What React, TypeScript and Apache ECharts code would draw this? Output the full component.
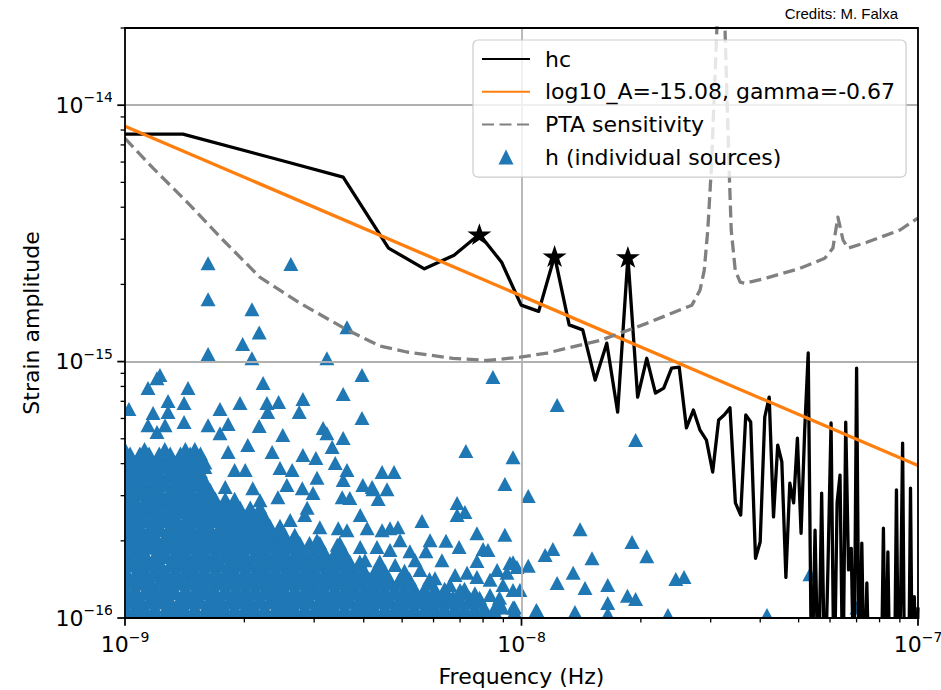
import React, { useEffect, useRef } from "react";
import * as echarts from "echarts";

const FONT = "'DejaVu Sans', sans-serif";
const NHZ = 1e-9; // frequencies below are given in nHz
const UNIT = 1e-16; // strains below are given in units of 1e-16

// Characteristic strain of the background, one value per frequency bin
const hcFreqNHz = [
  1.0, 1.4, 2.47, 3.55, 4.62, 5.69, 6.76, 7.83, 8.91, 9.98,
  11.05, 12.12, 13.19, 14.27, 15.34, 16.41, 17.48, 18.55, 19.63, 20.7,
  21.77, 22.84, 23.91, 24.99, 26.06, 27.13, 28.2, 29.27, 30.35, 31.42,
  32.49, 33.56, 34.63, 35.71, 36.78, 37.85, 38.92, 39.99, 41.07, 42.14,
  43.21, 44.28, 45.35, 46.43, 47.5, 48.57, 49.64, 50.71, 51.79, 52.86,
  53.93, 55.0, 56.08, 57.15, 58.22, 59.29, 60.36, 61.44, 62.51, 63.58,
  64.65, 65.72, 66.8, 67.87, 68.94, 70.01, 71.08, 72.16, 73.23, 74.3,
  75.37, 76.44, 77.52, 78.59, 79.66, 80.73, 81.8, 82.88, 83.95, 85.02,
  86.09, 87.16, 88.24, 89.31, 90.38, 91.45, 92.52, 93.6, 94.67, 95.74,
  96.81, 97.88, 98.96, 100.0,
];
const hcStrain = [
  77.1, 77.1, 61.0, 52.4, 27.7, 23.0, 26.0, 31.4, 24.4, 16.6,
  15.7, 25.8, 13.9, 13.3, 8.47, 11.8, 6.35, 25.6, 7.27, 10.3,
  7.54, 7.88, 9.43, 9.52, 5.51, 6.47, 5.4, 4.94, 3.71, 5.92,
  6.2, 6.6, 2.81, 2.52, 6.19, 5.81, 1.71, 1.98, 6.08, 7.27,
  2.48, 4.72, 4.06, 1.44, 3.36, 2.81, 5.03, 2.14, 5.4, 10.8,
  0.5, 2.2, 0.5, 3.07, 0.5, 1.6, 5.76, 0.5, 2.81, 3.61,
  0.5, 5.81, 1.54, 1.87, 0.5, 9.43, 0.5, 1.96, 0.5, 1.37,
  0.5, 0.5, 0.5, 0.5, 0.5, 0.5, 2.24, 0.5, 1.81, 0.5,
  0.5, 0.5, 3.16, 0.5, 1.14, 4.81, 0.5, 0.5, 0.5, 3.21,
  0.5, 1.21, 0.5, 1.1,
];

// Bins flagged with a star
const peakFreqNHz = [7.83, 12.12, 18.55];
const peakStrain = [31.4, 25.8, 25.6];

// Power-law fit, straight in log-log
const fitFreqNHz = [1, 100];
const fitStrain = [82.8, 3.93];

// Array sensitivity curve (1/yr and 2/yr features)
const ptaFreqNHz = [
  1.0, 1.177, 1.434, 1.767, 2.191, 2.764, 3.63, 4.4, 5.14, 6.72,
  8.18, 9.91, 11.6, 15.8, 20.7, 26.9, 28.2, 28.9, 29.5, 30.1,
  30.6, 31.1, 31.9, 32.6, 33.0, 33.4, 33.8, 34.6, 35.6, 36.6,
  41.6, 50.4, 58.2, 61.0, 62.8, 64.7, 66.6, 74.3, 90.1, 100.0,
];
const ptaStrain = [
  74.3, 56.8, 41.9, 29.8, 21.3, 16.9, 13.3, 11.5, 10.9, 10.3,
  10.1, 10.4, 10.8, 12.1, 14.1, 16.6, 19.0, 22.7, 32.6, 55.8,
  104.6, 199.6, 1000, 199.6, 104.6, 55.8, 32.6, 22.7, 20.4, 20.2,
  21.2, 23.1, 25.3, 27.7, 36.6, 29.8, 27.7, 29.2, 32.6, 36.3,
];

// Faint population of individual binaries: [strains, frequencies]
const populationRows: [number[], number[]][] = [
  [[1.06, 1.1], [1.0, 1.06, 1.12, 1.19, 1.27, 1.34, 1.41, 1.5, 1.6, 1.69, 1.78, 1.89, 2.01, 2.12, 2.25, 2.4, 2.53, 2.67, 2.84, 3.02, 3.19, 3.37, 3.58, 3.81, 4.02, 4.25, 4.52, 4.8, 5.07, 5.37, 5.71, 6.04, 6.39, 6.79, 7.18, 7.62, 8.06, 8.57, 9.6]],
  [[1.15, 1.2], [1.03, 1.09, 1.16, 1.22, 1.29, 1.38, 1.46, 1.54, 1.64, 1.74, 1.85, 1.95, 2.06, 2.19, 2.33, 2.46, 2.61, 2.76, 2.91, 3.1, 3.29, 3.48, 3.68, 3.91, 4.15, 4.39, 4.64, 4.93, 5.23, 5.53, 5.85, 6.22, 6.58, 6.97, 7.4, 7.84, 8.8]],
  [[1.25, 1.3], [1.0, 1.06, 1.13, 1.19, 1.26, 1.33, 1.42, 1.51, 1.59, 1.68, 1.79, 1.9, 2.01, 2.13, 2.26, 2.39, 2.52, 2.68, 2.85, 3.01, 3.18, 3.38, 3.59, 3.8, 4.03, 4.26, 4.51, 4.79, 5.08, 5.38, 5.69, 6.05, 6.4, 7.18]],
  [[1.36, 1.42], [1.03, 1.09, 1.15, 1.23, 1.3, 1.37, 1.46, 1.55, 1.65, 1.74, 1.84, 1.96, 2.07, 2.19, 2.31, 2.46, 2.6, 2.77, 2.92, 3.09, 3.28, 3.49, 3.69, 3.9, 4.14, 4.4, 4.65, 4.92, 5.22, 5.86]],
  [[1.47, 1.53], [1.0, 1.07, 1.12, 1.19, 1.26, 1.34, 1.42, 1.5, 1.59, 1.69, 1.8, 1.89, 2.01, 2.14, 2.25, 2.39, 2.54, 2.68, 2.84, 3.01, 3.2, 3.38, 3.58, 3.79, 4.02, 4.27, 4.52, 5.07]],
  [[1.6, 1.66], [1.03, 1.09, 1.15, 1.22, 1.31, 1.38, 1.46, 1.55, 1.64, 1.73, 1.84, 1.95, 2.07, 2.2, 2.32, 2.46, 2.6, 2.75, 2.92, 3.1, 3.28, 3.48, 3.69, 3.91, 4.39]],
  [[1.73, 1.8], [1.0, 1.06, 1.12, 1.2, 1.26, 1.34, 1.42, 1.51, 1.59, 1.69, 1.79, 1.89, 2.0, 2.13, 2.25, 2.39, 2.53, 2.69, 2.84, 3.01, 3.19, 3.38, 3.58]],
  [[1.88, 1.96], [1.03, 1.1, 1.15, 1.22, 1.3, 1.38, 1.47, 1.55, 1.64, 1.74, 1.85, 1.95, 2.07, 2.19, 2.32, 2.46, 2.61, 2.76, 2.92, 3.1, 3.48]],
  [[2.03, 2.11], [1.0, 1.06, 1.12, 1.19, 1.27, 1.34, 1.42, 1.5, 1.59, 1.69, 1.79, 1.9, 2.01, 2.13, 2.25, 2.38, 2.53, 2.68]],
  [[2.2, 2.29], [1.03, 1.09, 1.16, 1.22, 1.3, 1.38, 1.46, 1.55, 1.63, 1.74, 1.84, 1.95, 2.07, 2.19, 2.32, 2.46]],
  [[2.39, 2.49], [1.0, 1.06, 1.12, 1.19, 1.26, 1.34, 1.43, 1.5, 1.59, 1.69, 1.79, 1.89, 2.01, 2.13, 2.25]],
  [[2.59, 2.7], [1.03, 1.09, 1.15, 1.22, 1.3, 1.38, 1.46, 1.55, 1.64, 1.74, 1.84, 1.95, 2.07, 2.19]],
  [[2.81, 2.92], [1.0, 1.06, 1.13, 1.19, 1.26, 1.34, 1.42, 1.5, 1.59, 1.69, 1.79, 1.89]],
  [[3.04, 3.16], [1.03, 1.09, 1.15, 1.22, 1.3, 1.38, 1.46, 1.55, 1.64]],
  [[3.3, 3.43], [1.0, 1.06, 1.12, 1.19, 1.26, 1.34, 1.42, 1.5, 1.59]],
  [[3.58, 3.73], [1.03, 1.09, 1.15, 1.22, 1.3, 1.38, 1.46, 1.55]],
  [[3.88, 4.04], [1.0, 1.06, 1.12, 1.19, 1.26, 1.34, 1.42, 1.5, 1.59]],
  [[4.21, 4.38], [1.03, 1.09, 1.15, 1.22, 1.3, 1.38, 1.46, 1.55]],
  [[4.56], [1.0, 1.12, 1.26, 1.42, 1.5]],
];

// Brighter, isolated binaries: [frequency nHz, strain]
const loudSources: [number, number][] = [
  [1.62, 24.2], [2.62, 24.0], [1.62, 17.5], [2.09, 16.0], [2.18, 13.0], [1.98, 11.7],
  [1.62, 10.7], [2.09, 10.3], [3.23, 10.3], [3.63, 13.6], [8.47, 8.7], [12.3, 6.77],
  [3.96, 8.86], [1.225, 8.86], [1.204, 8.62], [1.143, 7.88], [1.442, 7.88], [2.23, 8.25],
  [1.284, 7.02], [1.409, 6.89], [1.023, 6.53], [1.177, 6.3], [1.284, 6.36], [1.736, 6.53],
  [1.95, 6.89], [2.28, 6.89], [2.44, 6.95], [2.81, 7.14], [3.55, 7.47], [2.29, 6.36],
  [2.75, 6.36], [3.96, 6.02], [1.409, 5.81], [1.62, 5.65], [1.82, 5.71], [2.18, 5.61],
  [1.143, 5.65], [1.262, 5.65], [1.204, 5.31], [3.16, 5.51], [3.23, 5.26], [1.736, 5.26],
  [2.5, 5.17], [3.55, 5.03], [7.24, 4.48], [9.52, 4.24], [9.08, 3.33], [10.4, 2.99],
  [4.45, 3.71], [4.77, 3.71], [4.2, 3.24], [4.58, 3.18], [4.35, 2.91], [6.88, 2.81],
  [7.2, 2.59], [6.88, 2.52], [5.61, 2.39], [14.05, 2.22], [7.72, 2.14], [9.08, 2.11],
  [6.45, 2.0], [6.96, 1.89], [8.0, 1.86], [5.23, 1.82], [5.74, 1.82], [11.47, 1.76],
  [12.0, 1.86], [15.06, 1.71], [6.3, 1.68], [7.72, 1.67], [10.4, 1.6], [13.5, 1.5],
  [12.3, 1.37], [14.46, 1.31], [7.29, 1.5], [8.68, 1.54], [9.35, 1.64], [9.74, 1.58],
  [7.72, 1.445], [6.6, 1.345], [8.98, 1.345], [7.63, 1.25], [10.9, 1.075], [13.64, 1.055],
  [19.4, 4.94], [19.0, 1.98], [20.7, 1.74], [24.5, 1.42], [25.7, 1.445], [16.5, 1.345],
  [18.5, 1.22], [19.4, 1.186], [16.5, 1.144], [16.5, 1.036], [23.4, 1.027], [41.6, 1.027],
  [53.4, 1.48], [70.2, 1.1], [9.52, 1.1], [8.93, 1.1], [10.98, 1.055],
  [2.04, 4.73], [1.82, 4.44], [2.35, 4.44], [2.81, 4.32], [3.03, 4.21], [3.33, 4.64],
  [3.39, 4.02], [1.89, 3.78], [2.01, 3.78], [2.46, 3.85], [2.64, 3.78], [3.05, 3.52],
  [3.63, 3.78], [3.55, 3.45], [1.79, 3.24], [2.1, 3.21], [2.56, 3.3], [2.8, 3.21],
  [2.98, 3.07], [3.98, 3.3], [4.22, 3.18], [2.19, 2.88], [2.43, 2.96], [2.88, 2.69],
  [3.53, 2.96], [3.69, 2.94], [3.92, 2.52], [3.1, 2.26], [3.45, 2.24], [3.63, 2.2],
  [4.08, 2.24], [4.45, 2.2], [4.66, 2.24], [4.88, 2.26], [8.23, 1.84], [9.52, 1.65],
  [9.19, 1.5], [3.92, 1.89], [4.32, 1.89], [4.66, 1.84], [3.43, 1.93], [6.72, 1.21],
  [9.52, 1.286], [2.46, 2.14], [3.05, 2.01], [2.61, 2.41], [2.84, 2.52], [5.55, 1.54],
  [6.05, 1.43], [6.8, 1.47], [8.33, 1.23], [7.0, 1.286],
  [4.03, 1.68], [4.8, 1.61], [5.39, 1.68], [8.33, 1.41], [9.91, 1.286], [5.88, 2.01],
  [4.94, 2.01], [6.05, 1.23],
];

// Axis ticks
const freqMajorTicks = [1e-9, 1e-8, 1e-7];
const freqMinorTicks = [2e-9, 3e-9, 4e-9, 5e-9, 6e-9, 7e-9, 8e-9, 9e-9, 2e-8, 3e-8, 4e-8, 5e-8, 6e-8, 7e-8, 8e-8, 9e-8];
const strainMajorTicks = [1e-16, 1e-15, 1e-14];
const strainMinorTicks = [2e-16, 3e-16, 4e-16, 5e-16, 6e-16, 7e-16, 8e-16, 9e-16, 2e-15, 3e-15, 4e-15, 5e-15, 6e-15, 7e-15, 8e-15, 9e-15, 2e-14];

const seriesNames = ["hc", "log10_A=-15.08, gamma=-0.67", "PTA sensitivity", "h (individual sources)"];
const creditText = "Credits: M. Falxa";

const STAR = "path://M50,0L61.23,34.55L97.55,34.55L68.17,55.9L79.39,90.45L50,69.1L20.61,90.45L31.83,55.9L2.45,34.55L38.77,34.55Z";
const TRIANGLE = "path://M5,0L10,10L0,10Z";

const zipCurve = (fs: number[], hs: number[]) => fs.map((f, i) => [f * NHZ, hs[i] * UNIT]);

const powerLabel = (v: number) => {
  const lg = Math.log10(v);
  const e = Math.round(lg);
  if (Math.abs(lg - e) > 0.01) return "";
  return `{b|10}{s|${e < 0 ? "\u2212" : ""}${Math.abs(e)}}`;
};

const labelRich = {
  b: { fontFamily: FONT, fontSize: 22, lineHeight: 30, color: "#000" },
  s: { fontFamily: FONT, fontSize: 14, lineHeight: 16, verticalAlign: "top", color: "#000" },
};

export default function App() {
  const ref = useRef<HTMLDivElement>(null);

  useEffect(() => {
    if (!ref.current) return;
    const chart = echarts.init(ref.current, undefined, { renderer: "svg" });

    const sources = [
      ...populationRows.flatMap(([ss, fs]) => ss.flatMap((s) => fs.map((f) => [f * NHZ, s * UNIT]))),
      ...loudSources.map(([f, s]) => [f * NHZ, s * UNIT]),
    ];

    const tickData = [
      ...freqMajorTicks.map((f) => [f, 1e-16, 0]),
      ...freqMinorTicks.map((f) => [f, 1e-16, 1]),
      ...strainMajorTicks.map((h) => [1e-9, h, 2]),
      ...strainMinorTicks.map((h) => [1e-9, h, 3]),
    ];

    const lineLegendItem = (name: string) => ({ name, itemStyle: { opacity: 0 } });

    chart.setOption({
      animation: false,
      backgroundColor: "#fff",
      textStyle: { fontFamily: FONT },
      grid: {
        left: 125,
        top: 28,
        width: 793,
        height: 590,
        show: true,
        z: 10,
        borderColor: "#000",
        borderWidth: 1.76,
        backgroundColor: "transparent",
        containLabel: false,
        outerBoundsMode: "none",
      },
      xAxis: {
        type: "log",
        logBase: 10,
        min: 1e-9,
        max: 1e-7,
        z: 2,
        name: "Frequency (Hz)",
        nameLocation: "middle",
        nameGap: 47,
        nameTextStyle: { fontFamily: FONT, fontSize: 22, color: "#000" },
        axisLine: { show: false },
        axisTick: { show: false },
        splitLine: { show: true, lineStyle: { color: "#b0b0b0", width: 1.76 } },
        axisLabel: {
          margin: 11.5,
          showMinLabel: true,
          showMaxLabel: true,
          formatter: powerLabel,
          rich: labelRich,
        },
      },
      yAxis: {
        type: "log",
        logBase: 10,
        min: 1e-16,
        max: 2e-14,
        z: 2,
        name: "Strain amplitude",
        nameLocation: "middle",
        nameGap: 83,
        nameTextStyle: { fontFamily: FONT, fontSize: 22, color: "#000" },
        axisLine: { show: false },
        axisTick: { show: false },
        splitLine: { show: true, lineStyle: { color: "#b0b0b0", width: 1.76 } },
        axisLabel: {
          margin: 12,
          showMinLabel: true,
          showMaxLabel: true,
          formatter: powerLabel,
          rich: labelRich,
        },
      },
      legend: {
        left: 473,
        top: 40,
        orient: "vertical",
        z: 11,
        selectedMode: false,
        backgroundColor: "rgba(255,255,255,0.8)",
        borderColor: "#cccccc",
        borderWidth: 1.2,
        borderRadius: 5,
        padding: [8, 11, 9, 8],
        itemWidth: 48,
        itemHeight: 15,
        itemGap: 10.7,
        symbolKeepAspect: true,
        textStyle: { fontFamily: FONT, fontSize: 22, lineHeight: 22, color: "#000", padding: [0, 0, 0, 10] },
        data: [
          lineLegendItem(seriesNames[0]),
          lineLegendItem(seriesNames[1]),
          lineLegendItem(seriesNames[2]),
          { name: seriesNames[3], icon: TRIANGLE },
        ],
      },
      graphic: [
        // hide the parts of markers that spill past the frame
        { type: "rect", z: 5, silent: true, shape: { x: 112, y: 20, width: 12.2, height: 606 }, style: { fill: "#fff" } },
        { type: "rect", z: 5, silent: true, shape: { x: 112, y: 618.9, width: 815, height: 8 }, style: { fill: "#fff" } },
        {
          type: "text",
          x: 898,
          y: 13,
          z: 20,
          style: {
            text: creditText,
            fontFamily: "'Liberation Sans', Arial, sans-serif",
            fontSize: 15,
            fill: "#000",
            align: "right",
            verticalAlign: "middle",
          },
        },
      ],
      series: [
        {
          name: seriesNames[3],
          type: "scatter",
          z: 1,
          symbol: "triangle",
          symbolSize: [15, 14],
          itemStyle: { color: "#1f77b4", opacity: 1 },
          progressive: 0,
          silent: true,
          data: sources,
        },
        {
          name: seriesNames[0],
          type: "line",
          z: 3,
          symbol: "none",
          showSymbol: false,
          clip: true,
          silent: true,
          lineStyle: { color: "#000", width: 3.3, join: "round" },
          itemStyle: { color: "#000" },
          data: zipCurve(hcFreqNHz, hcStrain),
        },
        {
          name: seriesNames[1],
          type: "line",
          z: 4,
          symbol: "none",
          showSymbol: false,
          clip: true,
          silent: true,
          lineStyle: { color: "#ff7f0e", width: 3.3 },
          itemStyle: { color: "#ff7f0e" },
          data: zipCurve(fitFreqNHz, fitStrain),
        },
        {
          name: seriesNames[2],
          type: "line",
          z: 5,
          symbol: "none",
          showSymbol: false,
          clip: true,
          silent: true,
          lineStyle: { color: "#808080", width: 3.3, type: [12, 5.5], join: "round" },
          itemStyle: { color: "#808080" },
          data: zipCurve(ptaFreqNHz, ptaStrain),
        },
        {
          name: "hc peaks",
          type: "scatter",
          z: 6,
          symbol: STAR,
          symbolSize: [24, 23],
          symbolKeepAspect: true,
          itemStyle: { color: "#000", opacity: 1 },
          silent: true,
          data: zipCurve(peakFreqNHz, peakStrain),
        },
        {
          name: "ticks",
          type: "custom",
          z: 12,
          silent: true,
          clip: false,
          data: tickData,
          renderItem: (_params: any, api: any) => {
            const kind = api.value(2);
            const p = api.coord([api.value(0), api.value(1)]);
            const major = kind === 0 || kind === 2;
            const len = major ? 7.7 : 4.4;
            const shape =
              kind < 2
                ? { x1: p[0], y1: p[1], x2: p[0], y2: p[1] + len }
                : { x1: p[0] - len, y1: p[1], x2: p[0], y2: p[1] };
            return { type: "line", shape, style: { stroke: "#000", lineWidth: major ? 1.76 : 1.3 } };
          },
        },
      ],
    });

    return () => chart.dispose();
  }, []);

  return (
    <div
      ref={ref}
      style={{ position: "absolute", left: 0, top: 0, width: 941, height: 690, background: "#fff" }}
    />
  );
}
